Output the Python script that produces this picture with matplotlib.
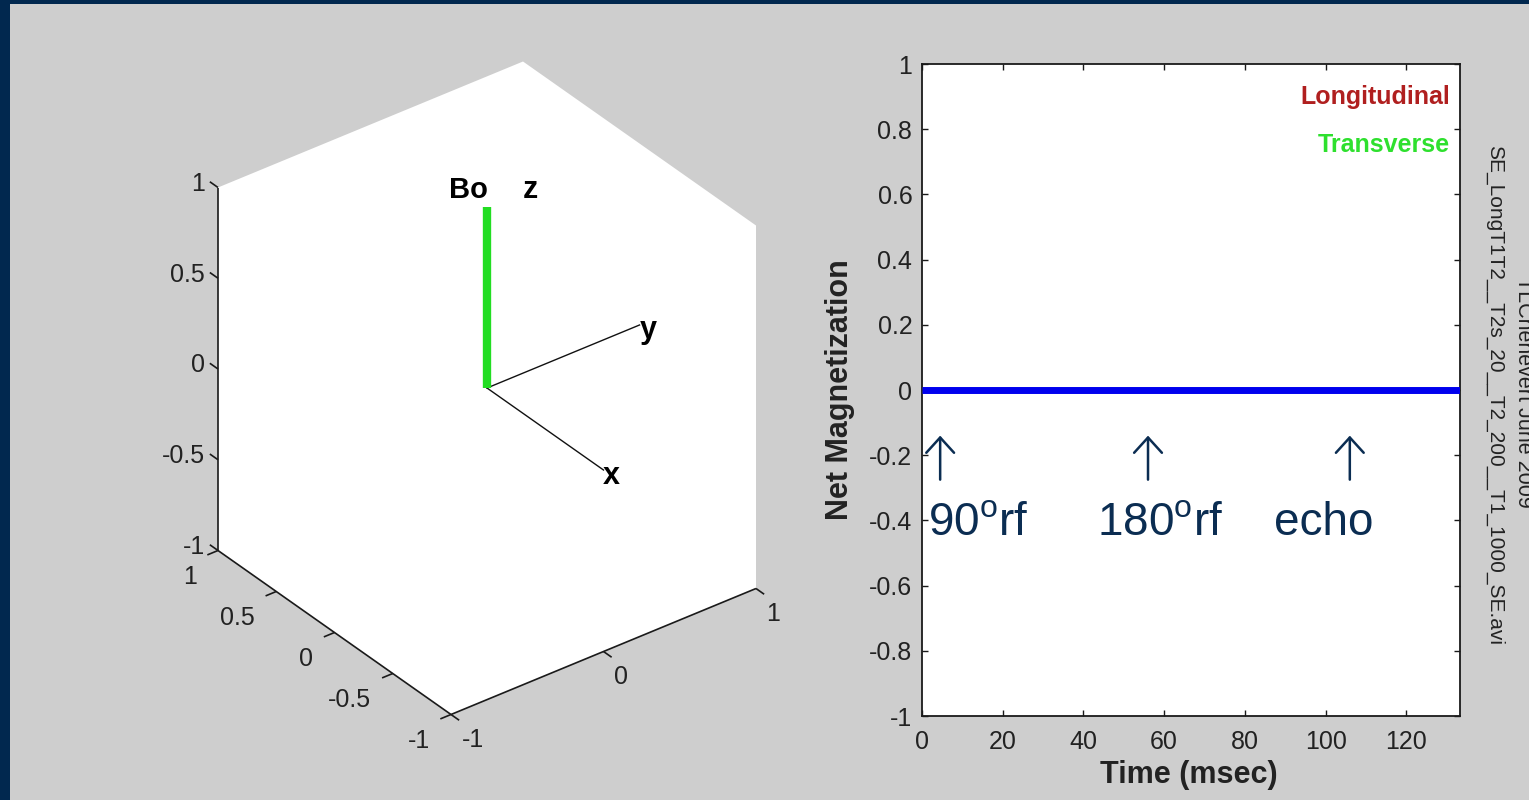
import numpy as np
import matplotlib
matplotlib.use("Agg")
import matplotlib.pyplot as plt
from matplotlib.patches import Rectangle, Polygon

plt.rcParams['font.family'] = ['Liberation Sans', 'DejaVu Sans']
plt.rcParams['mathtext.fontset'] = 'custom'
plt.rcParams['mathtext.rm'] = 'Liberation Sans'

# ---------------- data ----------------
time_ms = [0.0, 133.3]
net_magnetization = [0.0, 0.0]
x_ticks = [0, 20, 40, 60, 80, 100, 120]
y_ticks = [-1, -0.8, -0.6, -0.4, -0.2, 0, 0.2, 0.4, 0.6, 0.8, 1]
y_tick_labels = ['-1', '-0.8', '-0.6', '-0.4', '-0.2', '0', '0.2', '0.4', '0.6', '0.8', '1']
event_times = [4.5, 56, 106]
event_labels = ['90$^{\\mathregular{o}}$rf', '180$^{\\mathregular{o}}$rf', 'echo']
event_label_x = [1.5, 43.4, 87.3]
legend_names = ['Longitudinal', 'Transverse']

box_x_ticks = [1, 0.5, 0, -0.5, -1]
box_y_ticks = [-1, 0, 1]
box_z_ticks = [-1, -0.5, 0, 0.5, 1]
bo_vector = [0, 0, 1]          # magnetization / Bo along z
x_axis_end = [-1, 0, 0]
y_axis_end = [0, 1, 0]

# ---------------- style ----------------
W, H = 1529, 800
NAVY = '#01284f'
GREY = '#cecece'
TXT = '#222222'
ANN = '#0b2d52'
TICK_FS = 18

fig = plt.figure(figsize=(W / 100, H / 100), dpi=100, facecolor=NAVY)
fig.patches.append(Rectangle((10 / W, 0), 1 - 10 / W, (H - 4) / H,
                             transform=fig.transFigure, facecolor=GREY,
                             edgecolor='none', zorder=-10))


def fig_rect(left, top, right, bottom):
    return [left / W, 1 - bottom / H, (right - left) / W, (bottom - top) / H]


# ---------------- left: 3-D view (orthographic projection) ----------------
OX, OY = 487, 388
PU = np.array([-116.5, 152.5, 0.0])
PV = np.array([82.0, 63.0, 181.5])


def proj(p):
    p = np.asarray(p, dtype=float)
    return PU @ p, PV @ p


ax3 = fig.add_axes(fig_rect(100, 20, 900, 780))
ax3.set_xlim(100 - OX, 900 - OX)
ax3.set_ylim(OY - 780, OY - 20)
ax3.axis('off')
ax3.patch.set_alpha(0)

corners = [(1, -1, 1), (1, 1, 1), (-1, 1, 1), (-1, 1, -1), (-1, -1, -1), (1, -1, -1)]
ax3.add_patch(Polygon([proj(c) for c in corners], closed=True,
                      facecolor='white', edgecolor='none', zorder=1))


def line3(a, b, **kw):
    pa, pb = proj(a), proj(b)
    ax3.plot([pa[0], pb[0]], [pa[1], pb[1]], **kw)


box_kw = dict(color='#1a1a1a', lw=1.2, zorder=2, solid_capstyle='butt')
line3((1, -1, -1), (1, -1, 1), **box_kw)      # z axis
line3((-1, -1, -1), (1, -1, -1), **box_kw)    # x axis
line3((-1, -1, -1), (-1, 1, -1), **box_kw)    # y axis

tick_len = 0.07
for zv in box_z_ticks:
    line3((1, -1, zv), (1 + tick_len, -1, zv), **box_kw)
    u, v = proj((1.11, -1, zv - 0.03))
    ax3.text(u, v, f'{zv:g}', ha='right', va='center', fontsize=TICK_FS, color=TXT)
for xv in box_x_ticks:
    line3((xv, -1, -1), (xv, -1 - tick_len, -1), **box_kw)
    u, v = proj((xv, -1.14, -1.1))
    ax3.text(u, v, f'{xv:g}', ha='right', va='center', fontsize=TICK_FS, color=TXT)
for yv in box_y_ticks:
    line3((-1, yv, -1), (-1 - tick_len, yv, -1), **box_kw)
    u, v = proj((-1.09, yv, -1.1))
    ax3.text(u, v, f'{yv:g}', ha='left', va='center', fontsize=TICK_FS, color=TXT)

line3((0, 0, 0), x_axis_end, color='#111111', lw=1.0, zorder=3)
line3((0, 0, 0), y_axis_end, color='#111111', lw=1.0, zorder=3)
line3((0, 0, 0), bo_vector, color='#22dd22', lw=6, zorder=4, solid_capstyle='butt')

top = proj(bo_vector)
ax3.annotate('Bo', xy=top, xytext=(-19, 17), textcoords='offset pixels',
             ha='center', va='center', fontsize=21, fontweight='bold', color='black')
ax3.annotate('z', xy=top, xytext=(43, 17), textcoords='offset pixels',
             ha='center', va='center', fontsize=22, fontweight='bold', color='black')
u, v = proj((0, 1.06, -0.05))
ax3.text(u, v, 'y', ha='center', va='center', fontsize=22, fontweight='bold', color='black')
u, v = proj((-1.07, 0, 0))
ax3.text(u, v, 'x', ha='center', va='center', fontsize=22, fontweight='bold', color='black')

# ---------------- right: 2-D magnetization plot ----------------
ax = fig.add_axes(fig_rect(922, 64, 1460, 716))
ax.set_facecolor('white')
ax.plot(time_ms, net_magnetization, color='#0000ee', lw=5, solid_capstyle='butt', zorder=3)
ax.set_xlim(0, 133.3)
ax.set_ylim(-1, 1)
ax.set_xticks(x_ticks)
ax.set_xticklabels([str(t) for t in x_ticks])
ax.set_yticks(y_ticks)
ax.set_yticklabels(y_tick_labels)
ax.tick_params(direction='in', top=True, right=True, length=4.5, width=1.0,
               labelsize=TICK_FS, labelcolor=TXT, color='#1a1a1a')
ax.tick_params(axis='x', pad=10)
ax.tick_params(axis='y', pad=7)
for s in ax.spines.values():
    s.set_linewidth(1.3)
    s.set_color('#1a1a1a')

ax.set_xlabel('Time (msec)', fontsize=22, fontweight='bold', color=TXT)
ax.xaxis.set_label_coords(0.496, -0.0905)
ax.xaxis.label.set_va('center')
ax.set_ylabel('Net Magnetization', fontsize=22, fontweight='bold', color=TXT)
ax.yaxis.set_label_coords(-0.152, 0.5)
ax.yaxis.label.set_va('center')

legend_colors = ['#b01f1f', '#2ee02e']
legend_y = [0.949, 0.876]
for name, c, yy in zip(legend_names, legend_colors, legend_y):
    ax.text(0.981, yy, name, transform=ax.transAxes, ha='right', va='center',
            fontsize=18, fontweight='bold', color=c)

for t, lab, lx in zip(event_times, event_labels, event_label_x):
    ax.annotate('', xy=(t, -0.14), xytext=(t, -0.275),
                arrowprops=dict(arrowstyle='->,head_length=0.55,head_width=0.5',
                                lw=1.8, color=ANN, mutation_scale=20,
                                shrinkA=0, shrinkB=0))
    ax.text(lx, -0.445, lab, ha='left', va='baseline', fontsize=33, color=ANN)

fig.text(1495 / W, 1 - 395 / H, 'SE_LongT1T2__T2s_20__T2_200__T1_1000_SE.avi',
         rotation=270, ha='center', va='center', fontsize=15, color=TXT)
fig.text(1523 / W, 1 - 392 / H, 'TLChenevert June 2009',
         rotation=270, ha='center', va='center', fontsize=15.5, color=TXT)

fig.savefig('out.png', dpi=100, facecolor=NAVY)
